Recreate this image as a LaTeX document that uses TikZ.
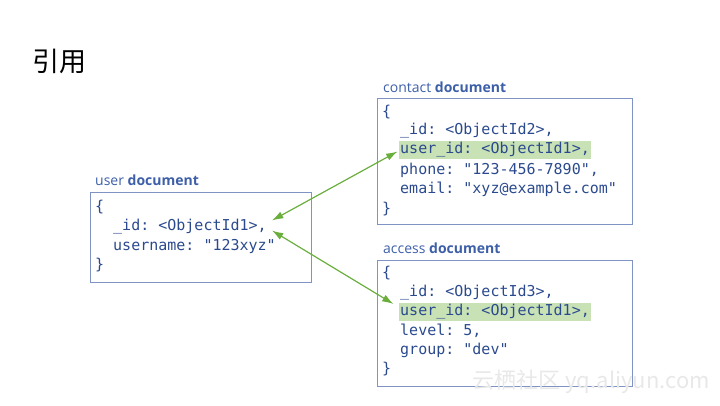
\documentclass[tikz,border=0pt]{standalone}
\usepackage{fontspec}
\setmainfont{Open Sans}
\setsansfont{Open Sans}
\setmonofont{DejaVu Sans Mono}
\newfontfamily\cjk{Noto Sans CJK SC}
\usepackage{tikz}
\usetikzlibrary{arrows.meta, positioning, calc}
\definecolor{mytext}{HTML}{2B4A8E}
\definecolor{mylabel}{HTML}{3D5FA8}
\definecolor{myborder}{HTML}{7F93C4}
\definecolor{mygreen}{HTML}{6AAE3E}
\definecolor{mygreenfill}{HTML}{C8E2B6}
\definecolor{mywater}{HTML}{E8E8E8}
\tikzset{
docbox/.style={
draw=myborder,
line width=0.8pt,
anchor=north west,
inner sep=0pt
},
codeline/.style={
font=\fontsize{15}{18}\selectfont\ttfamily,
text=mytext,
anchor=west,
inner sep=0pt,
minimum height=18pt
},
refline/.style={
codeline,
fill=mygreenfill,
inner xsep=1.5pt
},
doclabel/.style={
font=\fontsize{14}{16}\selectfont,
text=mylabel,
anchor=west,
inner sep=0pt
},
refarrow/.style={
{Latex[length=4mm,width=2.6mm]}-{Latex[length=4mm,width=2.6mm]},
line width=1.2pt,
draw=mygreen
}
}

\begin{document}
\begin{tikzpicture}[x=1pt, y=-1pt]
\useasboundingbox (0,0) rectangle (720,405);

\node[font=\fontsize{27}{30}\selectfont\cjk, anchor=west, inner sep=0pt] (title) at (32,61) {引用};

% user document
\node[doclabel] (userlabel) at (95,180) {user \textbf{document}};
\node[docbox, minimum width=221pt, minimum height=90pt] (userdoc) at (90,192) {};
\node[codeline] (user1) at (95,207) {\{};
\node[codeline] (uid) at (113,226.5) {\_id: <ObjectId1>,};
\node[codeline] (user3) at (113,246) {username: "123xyz"};
\node[codeline] (user4) at (95,265.5) {\}};

% contact document
\node[doclabel] (contactlabel) at (383,87) {contact \textbf{document}};
\node[docbox, minimum width=255pt, minimum height=126pt] (contactdoc) at (377,98) {};
\node[codeline] (contact1) at (382,112) {\{};
\node[codeline] (contact2) at (400,131) {\_id: <ObjectId2>,};
\node[refline] (cuid) at (398.5,150) {user\_id: <ObjectId1>,};
\node[codeline] (contact4) at (400,170) {phone: "123-456-7890",};
\node[codeline] (contact5) at (400,189) {email: "xyz@example.com"};
\node[codeline] (contact6) at (382,209) {\}};

% access document
\node[doclabel] (accesslabel) at (383,248) {access \textbf{document}};
\node[docbox, minimum width=255pt, minimum height=126pt] (accessdoc) at (377,260) {};
\node[codeline] (access1) at (382,273.5) {\{};
\node[codeline] (access2) at (400,293) {\_id: <ObjectId3>,};
\node[refline] (auid) at (398.5,312) {user\_id: <ObjectId1>,};
\node[codeline] (access4) at (400,331) {level: 5,};
\node[codeline] (access5) at (400,350) {group: "dev"};
\node[codeline] (access6) at (382,369.5) {\}};

% references
\draw[refarrow] ([xshift=5pt,yshift=6pt]uid.east) -- ([xshift=-1pt,yshift=-1.5pt]cuid.west);
\draw[refarrow] ([xshift=5pt,yshift=-4pt]uid.east) -- ([xshift=-5pt,yshift=8pt]auid.west);

\node[font=\fontsize{22}{26}\selectfont\cjk, text=mywater, anchor=east, inner sep=0pt] (watermark) at (710,382) {云栖社区 yq.aliyun.com};

\end{tikzpicture}
\end{document}
